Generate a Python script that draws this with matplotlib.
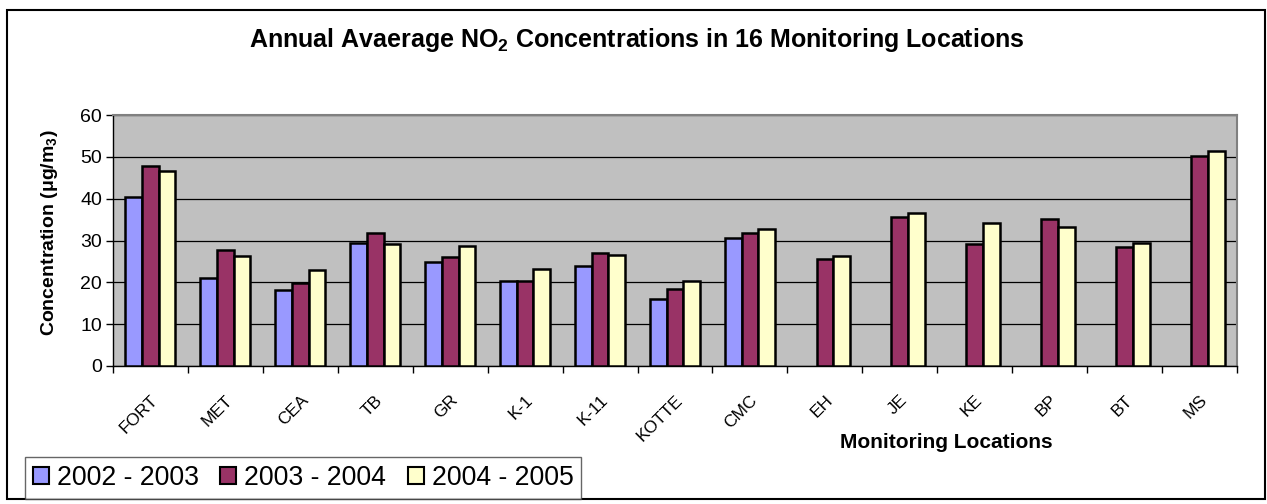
import numpy as np
import matplotlib.pyplot as plt
from matplotlib.patches import Rectangle

plt.rcParams['font.family'] = ['Liberation Sans', 'DejaVu Sans']
plt.rcParams['mathtext.fontset'] = 'custom'
plt.rcParams['mathtext.rm'] = 'Liberation Sans'
plt.rcParams['mathtext.bf'] = 'Liberation Sans:bold'

# data
locations = ['FORT', 'MET', 'CEA', 'TB', 'GR', 'K-1', 'K-11', 'KOTTE',
             'CMC', 'EH', 'JE', 'KE', 'BP', 'BT', 'MS']
nan = np.nan
y2002_03 = [40.5, 21.1, 18.1, 29.4, 24.8, 20.3, 23.9, 16.0, 30.7,
            nan, nan, nan, nan, nan, nan]
y2003_04 = [47.8, 27.8, 19.9, 31.9, 26.1, 20.4, 27.0, 18.5, 31.7,
            25.6, 35.7, 29.1, 35.2, 28.5, 50.2]
y2004_05 = [46.7, 26.4, 23.0, 29.1, 28.8, 23.3, 26.6, 20.4, 32.8,
            26.4, 36.5, 34.3, 33.3, 29.5, 51.4]
series = [y2002_03, y2003_04, y2004_05]
labels = ['2002 - 2003', '2003 - 2004', '2004 - 2005']
colors = ['#9999FF', '#993366', '#FFFFCC']

W, H = 1267, 504
fig = plt.figure(figsize=(W / 100, H / 100), dpi=100)
ax = fig.add_axes([113 / W, 1 - 366 / H, (1237 - 113) / W, (366 - 115) / H])
ax.set_facecolor('#C0C0C0')

x = np.arange(len(locations)) + 0.5
bw = 1 / 4.5
for i, vals in enumerate(series):
    ax.bar(x + (i - 1) * bw, vals, width=bw, color=colors[i],
           edgecolor='black', linewidth=1.8, label=labels[i], zorder=3)

ax.set_xlim(0, len(locations))
ax.set_ylim(0, 60)
ax.set_yticks(range(0, 61, 10))
ax.yaxis.grid(True, color='black', linewidth=0.9, zorder=1)
ax.set_axisbelow(True)
ax.tick_params(axis='y', labelsize=14, length=5, width=1, pad=3, direction='out')

# ticks at category boundaries, labels at the centres
ax.set_xticks(np.arange(len(locations) + 1))
ax.set_xticklabels([])
ax.set_xticks(x, minor=True)
ax.set_xticklabels(locations, minor=True, rotation=45, ha='right',
                   rotation_mode='anchor', fontsize=12.5)
ax.tick_params(axis='x', which='major', length=5, width=1, direction='out')
ax.tick_params(axis='x', which='minor', length=0, pad=19)

for side in ['top', 'right']:
    ax.spines[side].set_color('#808080')
    ax.spines[side].set_linewidth(1.5)
for side in ['left', 'bottom']:
    ax.spines[side].set_color('black')
    ax.spines[side].set_linewidth(1)

fig.text(637 / W, 1 - 40 / H,
         r'Annual Avaerage NO$_\mathbf{2}$ Concentrations in 16 Monitoring Locations',
         ha='center', va='center', fontsize=18, fontweight='bold')
fig.text(50 / W, 1 - 233 / H, r'Concentration (μg/m$_\mathbf{3}$)',
         rotation=90, ha='center', va='center', fontsize=14, fontweight='bold')
fig.text(946 / W, 1 - 442 / H, 'Monitoring Locations',
         ha='center', va='center', fontsize=15, fontweight='bold')

leg = fig.legend(loc='lower left', bbox_to_anchor=(25 / W, 1 - 499 / H),
                 ncol=3, fontsize=19.2, frameon=True, fancybox=False,
                 borderaxespad=0, borderpad=0.3, handlelength=0.6,
                 handleheight=0.6, handletextpad=0.3, columnspacing=0.8)
leg.get_frame().set_edgecolor('#404040')
leg.get_frame().set_linewidth(1)
for h in leg.legend_handles:
    h.set_linewidth(1.5)

fig.patches.append(Rectangle((7 / W, 1 - 499 / H), (1265 - 7) / W, (499 - 10) / H,
                             transform=fig.transFigure, fill=False,
                             edgecolor='black', linewidth=1.5, zorder=0))

fig.savefig('out.png', dpi=100)
